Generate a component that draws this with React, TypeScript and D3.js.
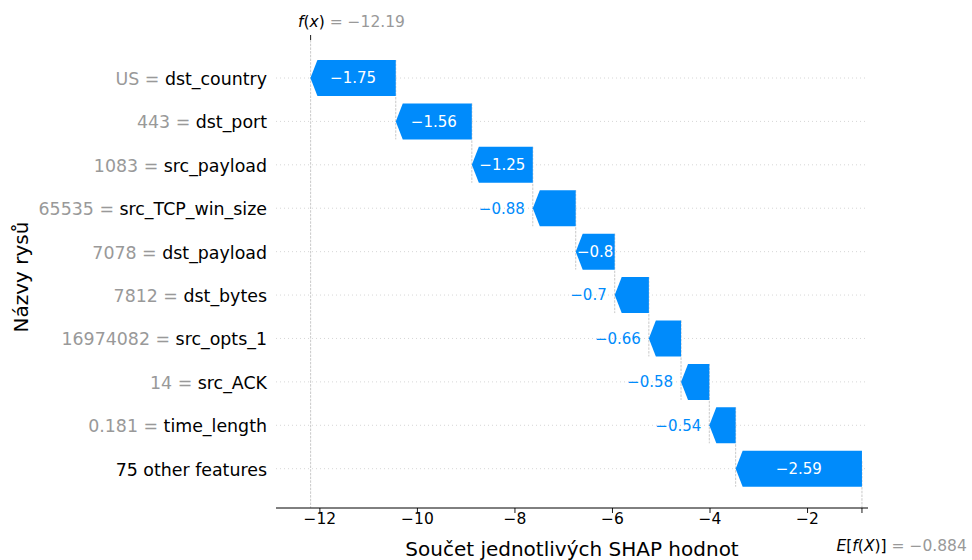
import React from "react";
import * as d3 from "d3";

const featureNames = [
  "dst_country",
  "dst_port",
  "src_payload",
  "src_TCP_win_size",
  "dst_payload",
  "dst_bytes",
  "src_opts_1",
  "src_ACK",
  "time_length",
  "75 other features",
];
const featureValues = ["US", "443", "1083", "65535", "7078", "7812", "16974082", "14", "0.181", ""];
const shapValues = [-1.75, -1.56, -1.25, -0.88, -0.8, -0.7, -0.66, -0.58, -0.54, -2.59];
const baseValue = -0.884;
const fxValue = -12.19;
const xTicks = [-12, -10, -8, -6, -4, -2];

const W = 972;
const H = 560;
const BLUE = "#008bfb";
const FONT = "'DejaVu Sans', sans-serif";

const fmtMinus = (s: string) => s.replace("-", "\u2212");

// approximate DejaVu Sans glyph widths (em) for numeric labels
const charW = (c: string) => (c === "\u2212" ? 0.838 : c === "." ? 0.318 : 0.636);
const textWidth = (s: string, size: number) => s.split("").reduce((a, c) => a + charW(c), 0) * size;

export default function App() {
  const axLeft = 276;
  const axRight = 868;
  const axTop = 40;
  const axBottom = 508;

  const x = d3.scaleLinear().domain([-12.9, -0.76]).range([axLeft, axRight]);
  const n = featureNames.length;
  const y = d3.scaleLinear().domain([0, n - 1]).range([78, 468.7]);
  const barH = 36;
  const headLen = 7;

  const ends: number[] = new Array(n);
  const starts: number[] = new Array(n);
  let cur = baseValue;
  for (let i = n - 1; i >= 0; i--) {
    starts[i] = cur;
    cur = cur + shapValues[i];
    ends[i] = cur;
  }

  const barLabelSize = 15;

  return (
    <div style={{ position: "absolute", left: 0, top: 0 }}>
      <svg width={W} height={H} style={{ display: "block", background: "#fff" }} fontFamily={FONT}>
        {featureNames.map((_, i) => (
          <line
            key={"g" + i}
            x1={axLeft}
            x2={axRight}
            y1={y(i)}
            y2={y(i)}
            stroke="#cccccc"
            strokeWidth={0.8}
            strokeDasharray="1,3"
          />
        ))}
        <line
          x1={x(fxValue)}
          x2={x(fxValue)}
          y1={axTop}
          y2={axBottom}
          stroke="#bbbbbb"
          strokeWidth={0.8}
          strokeDasharray="2.5,1.2"
        />
        <line
          x1={x(baseValue)}
          x2={x(baseValue)}
          y1={axBottom - (axBottom - axTop) / n}
          y2={axBottom}
          stroke="#bbbbbb"
          strokeWidth={0.8}
          strokeDasharray="2.5,1.2"
        />
        {featureNames.slice(0, n - 1).map((_, i) => (
          <line
            key={"c" + i}
            x1={x(starts[i])}
            x2={x(starts[i])}
            y1={y(i) - barH / 2}
            y2={y(i + 1) + barH / 2}
            stroke="#bbbbbb"
            strokeWidth={0.8}
            strokeDasharray="2.5,1.2"
          />
        ))}
        {featureNames.map((_, i) => {
          const xr = x(starts[i]);
          const xl = x(ends[i]);
          const yc = y(i);
          const yt = yc - barH / 2;
          const yb = yc + barH / 2;
          const hl = Math.min(headLen, xr - xl);
          const path = `M${xr},${yt}L${xl + hl},${yt}L${xl},${yc}L${xl + hl},${yb}L${xr},${yb}Z`;
          const label = fmtMinus(String(shapValues[i]));
          const tw = textWidth(label, barLabelSize);
          const inside = tw < xr - xl;
          return (
            <g key={"b" + i}>
              <path d={path} fill={BLUE} />
              {inside ? (
                <text
                  x={(xl + xr) / 2}
                  y={yc + barLabelSize * 0.36}
                  textAnchor="middle"
                  fill="#ffffff"
                  fontSize={barLabelSize}
                >
                  {label}
                </text>
              ) : (
                <text
                  x={xl - 8}
                  y={yc + barLabelSize * 0.36}
                  textAnchor="end"
                  fill={BLUE}
                  fontSize={barLabelSize}
                >
                  {label}
                </text>
              )}
            </g>
          );
        })}
        {featureNames.map((name, i) => (
          <text key={"f" + i} x={267} y={y(i) + 7} textAnchor="end" fontSize={17.4}>
            {featureValues[i] !== "" && <tspan fill="#999999">{featureValues[i] + " = "}</tspan>}
            <tspan fill="#000000">{name}</tspan>
          </text>
        ))}
        <line x1={axLeft} x2={axRight} y1={axBottom} y2={axBottom} stroke="#000" strokeWidth={1} />
        {xTicks.map((t) => (
          <g key={"t" + t}>
            <line x1={x(t)} x2={x(t)} y1={axBottom} y2={axBottom + 5} stroke="#000" strokeWidth={0.9} />
            <text x={x(t)} y={523.5} textAnchor="middle" fontSize={15.5} fill="#000">
              {fmtMinus(String(t))}
            </text>
          </g>
        ))}
        <line
          x1={x(baseValue)}
          x2={x(baseValue)}
          y1={axBottom}
          y2={axBottom + 5}
          stroke="#000"
          strokeWidth={0.9}
        />
        <text x={836.5} y={551} fontSize={15.5}>
          <tspan fontStyle="italic" fill="#000">E</tspan>
          <tspan fill="#000">[</tspan>
          <tspan fontStyle="italic" fill="#000">f</tspan>
          <tspan fill="#000">(</tspan>
          <tspan fontStyle="italic" fill="#000">X</tspan>
          <tspan fill="#000">)]</tspan>
          <tspan fill="#999999">{" = " + fmtMinus(String(baseValue))}</tspan>
        </text>
        <line x1={x(fxValue)} x2={x(fxValue)} y1={axTop} y2={axTop - 5} stroke="#000" strokeWidth={0.9} />
        <text x={298} y={26.5} fontSize={15.5}>
          <tspan fontStyle="italic" fill="#000">f</tspan>
          <tspan fill="#000">(</tspan>
          <tspan fontStyle="italic" fill="#000">x</tspan>
          <tspan fill="#000">)</tspan>
          <tspan fill="#999999">{" = " + fmtMinus(String(fxValue))}</tspan>
        </text>
        <text x={572} y={556} textAnchor="middle" fontSize={20} fill="#000">
          Součet jednotlivých SHAP hodnot
        </text>
        <text transform="translate(28,277) rotate(-90)" textAnchor="middle" fontSize={20} fill="#000">
          Názvy rysů
        </text>
      </svg>
    </div>
  );
}
